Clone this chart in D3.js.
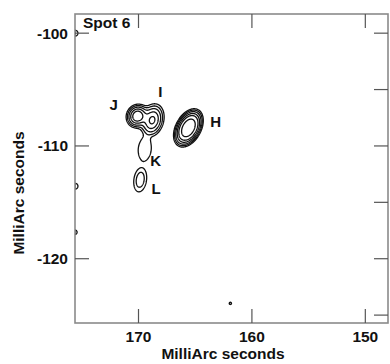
<!DOCTYPE html>
<html>
<head>
<meta charset="utf-8">
<script src="https://cdn.jsdelivr.net/npm/d3@7"></script>
<style>
  html, body { margin: 0; padding: 0; background: #fff; }
  svg { display: block; }
  text { font-family: "Liberation Sans", Arial, Helvetica, sans-serif; font-weight: bold; fill: #111; }
</style>
</head>
<body>
<svg id="chart" width="390" height="364"></svg>
<script>
// Axis extents (milliarcseconds); right ascension offset runs right-to-left
const xDomain = [175.6, 148.0];
const yDomain = [-98.3, -125.7];
const xTicks = [170, 160, 150];
const yTicksLeft = [-100, -110, -120];
const yTicksRight = [-100, -105, -110, -115, -120, -125];

// Emission components: position, peak brightness, shape
const compName  = ["H", "J", "I", "K", "L", "n1", "n2", "n3", "n4"];
const compX     = [165.6, 170.1, 168.78, 169.45, 169.85, 175.6, 175.6, 175.62, 161.9];
const compY     = [-108.4, -107.35, -107.72, -110.29, -113.0, -100.0, -113.57, -117.65, -123.96];
const compPeak  = [1.0, 0.7, 0.5, 0.085, 0.13, 0.07, 0.07, 0.065, 0.056];
const compMajor = [1.27, 0.66, 0.98, 1.14, 1.1, 0.45, 0.45, 0.40, 0.30];
const compMinor = [0.78, 0.6, 0.66, 0.67, 0.57, 0.45, 0.45, 0.40, 0.30];
const compTilt  = [28, 25, 15, 5, 8, 0, 0, 0, 0];
const compShape = [3, 2, 2, 4, 2, 2, 2, 2, 2];

// Contour levels (fraction of the brightest peak)
const levels = [0.05, 0.09, 0.16, 0.28, 0.45, 0.75];

// Feature labels
const labelText = ["J", "I", "H", "K", "L"];
const labelX    = [172.19, 168.08, 163.19, 168.48, 168.44];
const labelY    = [-106.3, -105.15, -107.85, -111.27, -113.75];

const plot = { left: 75, top: 14, right: 388, bottom: 323 };
const svg = d3.select("#chart");

const x = d3.scaleLinear().domain(xDomain).range([plot.left, plot.right]);
const y = d3.scaleLinear().domain(yDomain).range([plot.top, plot.bottom]);

// Brightness model summed over all components
function brightness(dx, dy) {
  let s = 0;
  for (let k = 0; k < compName.length; k++) {
    const du = -(dx - compX[k]);      // toward screen right
    const dv = dy - compY[k];         // up
    const t = compTilt[k] * Math.PI / 180;
    const a = du * Math.sin(t) + dv * Math.cos(t);
    const b = du * Math.cos(t) - dv * Math.sin(t);
    const r2 = (a / compMajor[k]) ** 2 + (b / compMinor[k]) ** 2;
    if (r2 > 40) continue;
    s += compPeak[k] * Math.exp(-Math.pow(r2, compShape[k] / 2));
  }
  return s;
}

// Sample the model on a fine pixel grid covering the plot
const res = 0.5;
const gw = Math.ceil((plot.right - plot.left) / res);
const gh = Math.ceil((plot.bottom - plot.top) / res);
const values = new Float64Array(gw * gh);
for (let j = 0; j < gh; j++) {
  const dy = y.invert(plot.top + (j + 0.5) * res);
  for (let i = 0; i < gw; i++) {
    const dx = x.invert(plot.left + (i + 0.5) * res);
    values[i + j * gw] = brightness(dx, dy);
  }
}

const contours = d3.contours().size([gw, gh]).thresholds(levels)(values);
const toPixels = d3.geoTransform({
  point(px, py) { this.stream.point(plot.left + px * res, plot.top + py * res); }
});
const path = d3.geoPath(toPixels);

svg.append("clipPath").attr("id", "plotClip")
  .append("rect")
  .attr("x", plot.left).attr("y", plot.top)
  .attr("width", plot.right - plot.left).attr("height", plot.bottom - plot.top);

svg.append("g")
  .attr("clip-path", "url(#plotClip)")
  .selectAll("path")
  .data(contours)
  .join("path")
  .attr("d", path)
  .attr("fill", "none")
  .attr("stroke", "#111")
  .attr("stroke-width", 1.3)
  .attr("stroke-linejoin", "round");

// Frame
svg.append("rect")
  .attr("x", plot.left).attr("y", plot.top)
  .attr("width", plot.right - plot.left).attr("height", plot.bottom - plot.top)
  .attr("fill", "none").attr("stroke", "#8a8a8a").attr("stroke-width", 1.6);

// Inward ticks
const tickLen = 14;
const ticks = svg.append("g").attr("stroke", "#555").attr("stroke-width", 1.2);
xTicks.forEach(v => {
  ticks.append("line").attr("x1", x(v)).attr("x2", x(v)).attr("y1", plot.top).attr("y2", plot.top + tickLen);
  ticks.append("line").attr("x1", x(v)).attr("x2", x(v)).attr("y1", plot.bottom).attr("y2", plot.bottom - tickLen);
});
yTicksLeft.forEach(v => {
  ticks.append("line").attr("x1", plot.left).attr("x2", plot.left + tickLen).attr("y1", y(v)).attr("y2", y(v));
});
yTicksRight.forEach(v => {
  ticks.append("line").attr("x1", plot.right).attr("x2", plot.right - tickLen).attr("y1", y(v)).attr("y2", y(v));
});

// Tick labels
svg.append("g").selectAll("text").data(xTicks).join("text")
  .attr("x", d => x(d)).attr("y", 341.5)
  .attr("text-anchor", "middle").attr("font-size", 15.5)
  .text(d => d);
svg.append("g").selectAll("text").data(yTicksLeft).join("text")
  .attr("x", 68).attr("y", d => y(d) + 5.5)
  .attr("text-anchor", "end").attr("font-size", 15.5)
  .text(d => d);

// Axis titles
svg.append("text").attr("x", 223).attr("y", 359)
  .attr("text-anchor", "middle").attr("font-size", 15.5)
  .text("MilliArc seconds");
svg.append("text").attr("transform", "translate(24,193) rotate(-90)")
  .attr("text-anchor", "middle").attr("font-size", 15.5)
  .text("MilliArc seconds");

// Panel title
svg.append("text").attr("x", 83).attr("y", 28).attr("font-size", 15.5).text("Spot 6");

// Feature labels
svg.append("g").selectAll("text").data(labelText).join("text")
  .attr("x", (d, i) => x(labelX[i])).attr("y", (d, i) => y(labelY[i]))
  .attr("text-anchor", "middle").attr("dominant-baseline", "central")
  .attr("font-size", 15)
  .text(d => d);
</script>
</body>
</html>
